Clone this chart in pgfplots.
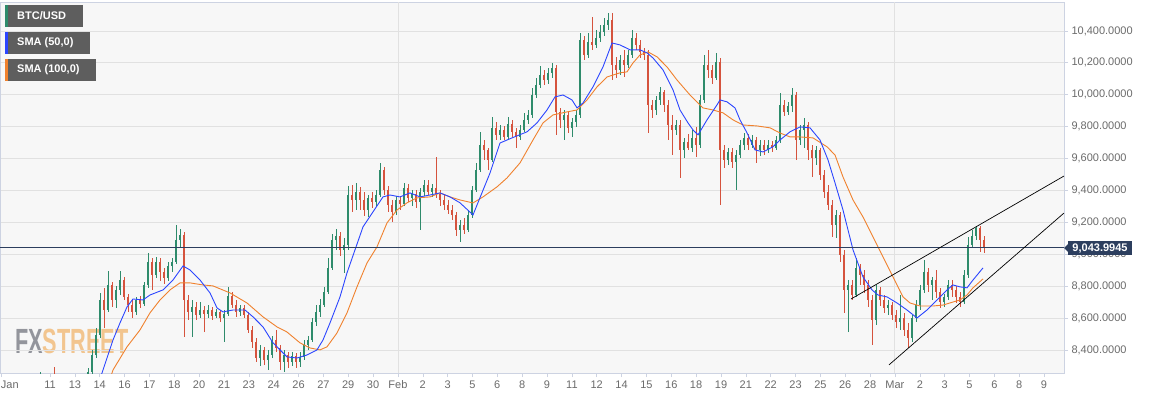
\documentclass[border=0pt]{standalone}
\usepackage{pgfplots}
\pgfplotsset{compat=1.18}
\usepackage{pgfplotstable}
\usepackage{fontspec}
\setmainfont{Liberation Sans}
\definecolor{upc}{HTML}{2E8B6B}
\definecolor{dnc}{HTML}{D5533D}
\definecolor{smab}{HTML}{2B45FF}
\definecolor{smao}{HTML}{F0812D}
\definecolor{navyc}{HTML}{2C3E5E}
\definecolor{bgc}{HTML}{F7F7F7}
\definecolor{gridc}{HTML}{E1E1E1}
\definecolor{axisc}{HTML}{CDD3E2}
\definecolor{tickc}{HTML}{6B6B6B}
\definecolor{legbox}{HTML}{5E5E5E}
\definecolor{fxgray}{HTML}{8E9098}
\definecolor{fxorange}{HTML}{F2C38A}

\pgfplotstableread{
x o h l c
40 8150 8262 8100 8200
54 8200 8290 8120 8150
88 8180 8287 8117 8262
92 8262 8400 8243 8368
96 8368 8537 8350 8494
100 8494 8757 8475 8713
104 8713 8789 8537 8650
108 8650 8895 8638 8807
112 8807 8826 8669 8713
116 8713 8801 8663 8776
120 8776 8895 8744 8838
124 8838 8857 8713 8732
128 8732 8751 8638 8682
132 8682 8713 8600 8638
136 8638 8732 8619 8713
140 8713 8738 8663 8688
144 8688 8826 8675 8807
148 8807 9008 8789 8951
152 8951 8976 8776 8870
156 8870 8983 8851 8951
160 8951 8976 8832 8889
164 8889 8914 8813 8851
168 8851 8951 8832 8926
172 8926 8976 8889 8951
176 8951 9183 8939 9089
180 9089 9158 9046 9121
184 9121 9139 8481 8713
188 8713 8744 8588 8638
192 8638 8713 8481 8669
196 8669 8700 8588 8619
200 8619 8700 8600 8650
204 8650 8675 8512 8625
208 8625 8682 8600 8650
212 8650 8669 8588 8613
216 8613 8657 8600 8638
220 8638 8650 8575 8600
224 8600 8650 8450 8625
228 8625 8795 8613 8738
232 8738 8763 8663 8682
236 8682 8713 8607 8638
240 8638 8682 8613 8663
244 8663 8682 8600 8619
248 8619 8638 8506 8525
252 8525 8550 8412 8450
256 8450 8475 8324 8349
260 8349 8431 8299 8400
264 8400 8418 8305 8337
268 8337 8400 8274 8368
272 8368 8487 8349 8462
276 8462 8525 8387 8412
280 8412 8431 8274 8324
284 8324 8400 8262 8368
288 8368 8387 8287 8324
292 8324 8387 8299 8362
296 8362 8381 8287 8324
300 8324 8387 8293 8356
304 8356 8462 8337 8431
308 8431 8487 8400 8462
312 8462 8600 8450 8575
316 8575 8682 8550 8638
320 8638 8719 8607 8682
324 8682 8795 8669 8763
328 8763 8976 8751 8914
332 8914 9127 8901 9089
336 9089 9158 9027 9114
340 9114 9139 8989 9027
344 9027 9102 8883 9058
348 9058 9428 9027 9371
352 9371 9434 9265 9340
356 9340 9447 9277 9390
360 9390 9422 9277 9340
364 9340 9390 9240 9277
368 9277 9371 9234 9353
372 9353 9390 9290 9327
376 9327 9403 9302 9371
380 9371 9572 9359 9528
384 9528 9547 9371 9403
388 9403 9428 9265 9309
392 9309 9340 9202 9265
396 9265 9365 9246 9340
400 9340 9365 9277 9315
404 9315 9447 9302 9415
408 9415 9441 9327 9353
412 9353 9403 9302 9378
416 9378 9403 9290 9327
420 9327 9415 9152 9390
424 9390 9465 9365 9434
428 9434 9466 9371 9390
432 9390 9441 9359 9415
436 9415 9610 9353 9378
440 9378 9403 9302 9340
444 9340 9371 9277 9308
448 9308 9340 9252 9277
452 9277 9308 9215 9246
456 9246 9265 9114 9152
460 9152 9215 9077 9183
464 9183 9227 9127 9152
468 9152 9277 9139 9246
472 9246 9428 9227 9403
476 9403 9572 9390 9528
480 9528 9766 9516 9685
484 9685 9716 9591 9654
488 9654 9666 9528 9591
492 9591 9861 9578 9791
496 9791 9829 9716 9748
500 9748 9810 9716 9779
504 9779 9804 9716 9735
508 9735 9861 9723 9817
512 9817 9842 9735 9766
516 9766 9791 9666 9735
520 9735 9810 9716 9779
524 9779 9886 9766 9842
528 9842 9904 9817 9873
532 9873 10042 9855 9998
536 9998 10105 9980 10061
540 10061 10180 10042 10124
544 10124 10155 10061 10092
548 10092 10168 10067 10136
552 10136 10199 10105 10168
556 10168 10186 9748 9892
560 9892 9917 9791 9842
564 9842 9904 9716 9873
568 9873 9892 9760 9791
572 9791 9854 9735 9829
576 9829 9904 9798 9873
580 9873 10387 9854 10343
584 10343 10368 10218 10249
588 10249 10387 10230 10331
592 10331 10487 10281 10312
596 10312 10406 10293 10356
600 10356 10437 10331 10393
604 10393 10481 10368 10437
608 10437 10512 10406 10469
612 10469 10512 10092 10186
616 10186 10237 10105 10155
620 10155 10249 10124 10218
624 10218 10281 10111 10186
628 10186 10281 10168 10249
632 10249 10406 10230 10356
636 10356 10387 10281 10312
640 10312 10343 10230 10268
644 10268 10293 10218 10249
648 10249 10281 9760 9936
652 9936 9967 9854 9904
656 9904 9993 9873 9967
660 9967 10049 9936 10017
664 10017 10030 9892 9936
668 9936 9967 9716 9810
672 9810 9873 9622 9779
676 9779 9842 9748 9810
680 9810 9842 9478 9654
684 9654 9729 9604 9704
688 9704 9754 9654 9666
692 9666 9779 9641 9729
696 9729 9798 9611 9685
700 9685 9998 9666 9967
704 9967 10249 9949 10186
708 10186 10281 10105 10155
712 10155 10186 10067 10105
716 10105 10262 10092 10205
720 10205 10230 9309 9654
724 9654 9685 9541 9591
728 9591 9666 9560 9641
732 9641 9666 9541 9578
736 9578 9654 9403 9622
740 9622 9716 9604 9685
744 9685 9761 9654 9729
748 9729 9754 9654 9685
752 9685 9748 9666 9716
756 9716 9735 9572 9654
760 9654 9716 9616 9685
764 9685 9716 9622 9654
768 9654 9716 9635 9685
772 9685 9710 9641 9666
776 9666 9741 9654 9716
780 9716 10011 9698 9936
784 9936 9967 9867 9892
788 9892 9955 9873 9930
792 9930 10042 9892 9998
796 9998 10017 9591 9716
800 9716 9810 9685 9779
804 9779 9854 9666 9810
808 9810 9829 9591 9654
812 9654 9685 9485 9603
816 9603 9679 9560 9654
820 9654 9666 9466 9497
824 9497 9528 9353 9390
828 9390 9434 9277 9309
832 9309 9340 9108 9183
836 9183 9277 9102 9246
840 9246 9265 8951 8995
844 8995 9027 8632 8776
848 8776 8838 8512 8807
852 8807 8838 8713 8744
856 8744 8976 8732 8914
860 8914 8939 8807 8870
864 8870 8901 8757 8807
868 8807 8838 8669 8713
872 8713 8744 8431 8588
876 8588 8807 8556 8776
880 8776 8795 8675 8713
884 8713 8744 8632 8663
888 8663 8713 8619 8682
892 8682 8700 8588 8619
896 8619 8650 8537 8575
900 8575 8744 8525 8600
904 8600 8632 8487 8525
908 8525 8569 8412 8475
912 8475 8619 8450 8600
916 8600 8713 8575 8682
920 8682 8807 8650 8776
924 8776 8964 8757 8889
928 8889 8914 8763 8807
932 8807 8857 8713 8838
936 8838 8901 8726 8763
940 8763 8789 8663 8700
944 8700 8751 8669 8732
948 8732 8838 8713 8807
952 8807 8838 8732 8776
956 8776 8801 8694 8732
960 8732 8763 8669 8700
964 8700 8901 8688 8870
968 8870 9108 8851 9058
972 9058 9152 9039 9114
976 9114 9177 9089 9164
980 9164 9177 9014 9089
984 9089 9114 9008 9044
}\candles

\pgfplotstableread{
x y
98 8180
103 8274
113 8462
120 8569
127 8669
133 8719
143 8713
150 8744
163 8776
173 8838
183 8926
190 8901
200 8838
210 8757
217 8663
223 8638
233 8650
245 8650
253 8607
263 8544
273 8444
287 8356
297 8349
307 8368
317 8400
323 8462
330 8569
340 8732
347 8883
355 9027
363 9171
373 9265
383 9359
390 9371
400 9359
410 9384
420 9359
430 9371
440 9384
450 9359
460 9322
473 9246
490 9509
500 9697
512 9729
527 9767
537 9823
547 9904
555 9986
563 9998
572 9967
577 9917
583 9948
593 10049
603 10174
612 10324
620 10312
630 10281
640 10281
647 10262
653 10230
663 10155
673 10030
680 9904
688 9823
693 9779
698 9748
707 9842
717 9936
720 9967
727 9955
735 9917
740 9842
747 9761
755 9654
763 9641
773 9673
780 9716
790 9767
800 9798
810 9792
820 9716
828 9591
835 9447
843 9277
853 9027
863 8857
872 8776
878 8744
887 8732
897 8694
907 8650
917 8600
927 8650
937 8713
947 8776
953 8807
960 8795
967 8789
973 8838
983 8914
}\smafifty

\pgfplotstableread{
x y
108 8180
113 8274
127 8419
140 8525
150 8632
160 8713
170 8776
180 8820
190 8820
203 8807
213 8801
230 8757
247 8694
263 8607
277 8544
287 8512
300 8444
310 8412
320 8400
327 8419
337 8506
347 8632
357 8795
367 8945
377 9046
387 9196
397 9277
407 9322
417 9353
430 9359
440 9384
450 9359
460 9340
473 9321
483 9359
497 9422
507 9478
520 9572
533 9716
543 9823
553 9873
567 9892
577 9904
587 9967
597 10049
607 10111
620 10137
627 10143
633 10199
640 10249
648 10268
657 10237
667 10174
677 10092
690 9998
703 9917
713 9904
723 9886
733 9842
743 9810
757 9804
770 9792
780 9760
790 9735
800 9735
813 9729
827 9673
835 9622
843 9484
853 9340
863 9233
873 9108
883 8983
893 8857
903 8732
910 8694
920 8675
933 8675
943 8681
953 8700
960 8713
967 8744
973 8789
983 8845
}\smahundred

\begin{document}
\begin{tikzpicture}[x=1pt,y=1pt]
\useasboundingbox (0,0) rectangle (1153,399);
\fill[white] (0,0) rectangle (1153,399);
\fill[bgc] (0,26) rectangle (1064,397);
\node[anchor=base west, inner sep=0, opacity=0.95, font=\fontsize{35}{35}\bfseries\selectfont] at (15,46)
  {\scalebox{0.62}[1]{\textcolor{fxgray}{FX}\textcolor{fxorange}{STREET}}};
\begin{axis}[
  at={(0pt,26pt)}, anchor=south west,
  scale only axis, width=1064pt, height=371pt,
  xmin=0, xmax=1064, ymin=8255, ymax=10581,
  clip mode=individual,
  axis line style={axisc, line width=0.8pt},
  tick style={axisc, line width=0.6pt},
  major tick length=4pt, tick align=outside,
  ytick={8400,8600,8800,9000,9200,9400,9600,9800,10000,10200,10400},
  ytick pos=right, yticklabel pos=right,
  scaled y ticks=false,
  yticklabel style={font=\fontsize{11}{13}\selectfont, text=tickc,
    /pgf/number format/.cd, fixed, fixed zerofill, precision=4, 1000 sep={,}, assume math mode=true},
  ymajorgrids, grid style={gridc, line width=0.6pt},
  xtick pos=left,
  xtick={1,50.0,74.9,99.7,124.6,149.4,174.3,199.1,224.0,248.8,273.7,298.5,323.4,348.2,373.1,397.9,422.8,447.6,472.5,497.3,522.2,547.0,571.9,596.7,621.6,646.4,671.3,696.1,721.0,745.8,770.7,795.5,820.4,845.2,870.1,894.9,919.8,944.6,969.5,994.3,1019.2,1044.0},
  xticklabels={\rlap{Jan},11,13,14,16,17,18,20,21,23,24,26,27,29,30,Feb,2,3,5,6,8,9,11,12,14,15,16,18,19,21,22,23,25,26,28,Mar,2,3,5,6,8,9},
  xticklabel style={font=\fontsize{11}{13}\selectfont, text=tickc},
  no markers,
]
\draw[gridc, line width=0.6pt] (axis cs:398,8255) -- (axis cs:398,10581);
\draw[gridc, line width=0.6pt] (axis cs:894,8255) -- (axis cs:894,10581);
% wicks
\addplot[upc, line width=0.7pt, quiver={u=0,v=\thisrow{h}-\thisrow{l}},
  x filter/.expression={\thisrow{c}<\thisrow{o} ? nan : x}] table[x=x,y=l]{\candles};
\addplot[dnc, line width=0.7pt, quiver={u=0,v=\thisrow{h}-\thisrow{l}},
  x filter/.expression={\thisrow{c}<\thisrow{o} ? x : nan}] table[x=x,y=l]{\candles};
% bodies
\addplot[upc, line width=2.1pt, quiver={u=0,v=\thisrow{c}-\thisrow{o}},
  x filter/.expression={\thisrow{c}<\thisrow{o} ? nan : x}] table[x=x,y=o]{\candles};
\addplot[dnc, line width=2.1pt, quiver={u=0,v=\thisrow{c}-\thisrow{o}},
  x filter/.expression={\thisrow{c}<\thisrow{o} ? x : nan}] table[x=x,y=o]{\candles};
% moving averages
\addplot[smao, line width=0.9pt] table[x=x,y=y]{\smahundred};
\addplot[smab, line width=0.9pt] table[x=x,y=y]{\smafifty};
% current price line
\addplot[navyc, line width=0.8pt] coordinates {(0,9044) (1064,9044)};
% trend lines
\addplot[black, line width=0.7pt] coordinates {(851,8719) (1064,9490)};
\addplot[black, line width=0.7pt] coordinates {(889,8306) (1064,9258)};
\end{axis}
% price label
\fill[navyc] (1064,151) -- (1068.5,155.5) -- (1068.5,146.5) -- cycle;
\fill[navyc] (1068,144) rectangle (1132,157.5);
\node[text=white, inner sep=0, font=\fontsize{11}{13}\bfseries\selectfont] at (1100,150.7) {9,043.9945};
% legend boxes
\fill[legbox] (7,372) rectangle (83,394);
\fill[upc] (5,372) rectangle (7.5,394);
\node[anchor=west, inner sep=0, text=white, font=\fontsize{11}{13}\bfseries\selectfont] at (17,383) {BTC/USD};
\fill[legbox] (7,345) rectangle (90,367);
\fill[smab] (5,345) rectangle (7.5,367);
\node[anchor=west, inner sep=0, text=white, font=\fontsize{11}{13}\bfseries\selectfont] at (17,356) {SMA (50,0)};
\fill[legbox] (7,318) rectangle (96,340);
\fill[smao] (5,318) rectangle (7.5,340);
\node[anchor=west, inner sep=0, text=white, font=\fontsize{11}{13}\bfseries\selectfont] at (17,329) {SMA (100,0)};
\end{tikzpicture}
\end{document}
